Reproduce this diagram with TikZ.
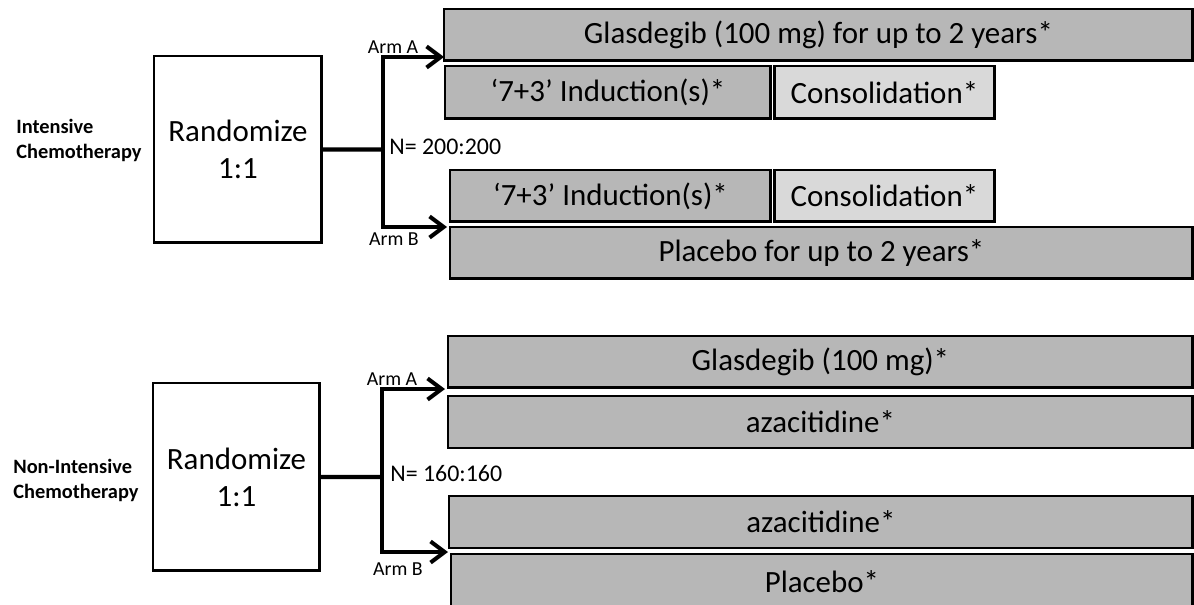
\documentclass[tikz,border=0pt]{standalone}
\usepackage{fontspec}
\setmainfont{Carlito}
\usetikzlibrary{arrows.meta,positioning}
\definecolor{barfill}{RGB}{183,183,183}
\definecolor{consfill}{RGB}{217,217,217}
\tikzset{
  bar/.style={draw, line width=1.7pt, fill=barfill, inner sep=0pt, outer sep=0pt,
    anchor=north west, font=\fontsize{17.6}{20}\selectfont},
  consbar/.style={bar, fill=consfill},
  randbox/.style={draw, line width=1.7pt, inner sep=0pt, outer sep=0pt,
    anchor=north west, align=center, font=\fontsize{17.6}{21}\selectfont},
  trunk/.style={line width=2.3pt},
  armarrow/.style={line width=2.3pt, -{Straight Barb[length=8pt,width=12pt]}},
  armlabel/.style={inner sep=0pt, font=\fontsize{11.3}{13}\selectfont},
  nlabel/.style={inner sep=0pt, anchor=west, font=\fontsize{13.6}{16}\selectfont},
  grouplabel/.style={inner sep=0pt, anchor=west, align=left,
    font=\bfseries\fontsize{11.6}{14.2}\selectfont}
}
\begin{document}
\begin{tikzpicture}[x=0.02cm, y=-0.02cm]
  \useasboundingbox (0,0) rectangle (1194,605);

  % intensive chemotherapy
  \node[grouplabel] (group1) at (16,140) {Intensive\\Chemotherapy};
  \node[randbox, minimum width=3.36cm, minimum height=3.74cm] (rand1) at (154,56) {Randomize\\1:1};
  \node[bar, minimum width=14.98cm, minimum height=1.04cm] (glasA) at (444,9) {Glasdegib (100 mg) for up to 2 years*};
  \node[bar, minimum width=6.52cm, minimum height=1.06cm] (indA) at (445,66) {‘7+3’ Induction(s)*};
  \node[consbar, minimum width=4.42cm, minimum height=1.06cm] (conA) at (774,66) {Consolidation*};
  \node[bar, minimum width=6.42cm, minimum height=1.04cm] (indB) at (450,170) {‘7+3’ Induction(s)*};
  \node[consbar, minimum width=4.42cm, minimum height=1.04cm] (conB) at (774,170) {Consolidation*};
  \node[bar, minimum width=14.86cm, minimum height=1.04cm] (plaB) at (450,227) {Placebo for up to 2 years*};

  \coordinate (fork1) at (383,149.5);
  \coordinate (tipA1) at (444,57);
  \coordinate (tipB1) at (447,227);
  \draw[trunk] (rand1.east) -- (fork1);
  \draw[armarrow] (fork1) |- (tipA1);
  \draw[armarrow] (fork1) |- (tipB1);
  \node[armlabel] (armA1) at (393,47) {Arm A};
  \node[armlabel] (armB1) at (394,239) {Arm B};
  \node[nlabel] (n1) at (389,147) {N= 200:200};

  % non-intensive chemotherapy
  \node[grouplabel] (group2) at (13,480) {Non-Intensive\\Chemotherapy};
  \node[randbox, minimum width=3.34cm, minimum height=3.76cm] (rand2) at (153,383) {Randomize\\1:1};
  \node[bar, minimum width=14.9cm, minimum height=1.04cm] (glasC) at (448,336) {Glasdegib (100 mg)*};
  \node[bar, minimum width=14.9cm, minimum height=1.04cm] (azaC) at (448,396) {azacitidine*};
  \node[bar, minimum width=14.88cm, minimum height=1.04cm] (azaD) at (449,496) {azacitidine*};
  \node[bar, minimum width=14.84cm, minimum height=1.12cm] (plaD) at (451,554) {Placebo*};

  \coordinate (fork2) at (382,477);
  \coordinate (tipA2) at (445,389);
  \coordinate (tipB2) at (448,552);
  \draw[trunk] (rand2.east) -- (fork2);
  \draw[armarrow] (fork2) |- (tipA2);
  \draw[armarrow] (fork2) |- (tipB2);
  \node[armlabel] (armA2) at (392,379) {Arm A};
  \node[armlabel] (armB2) at (398,569) {Arm B};
  \node[nlabel] (n2) at (390,474) {N= 160:160};
\end{tikzpicture}
\end{document}
